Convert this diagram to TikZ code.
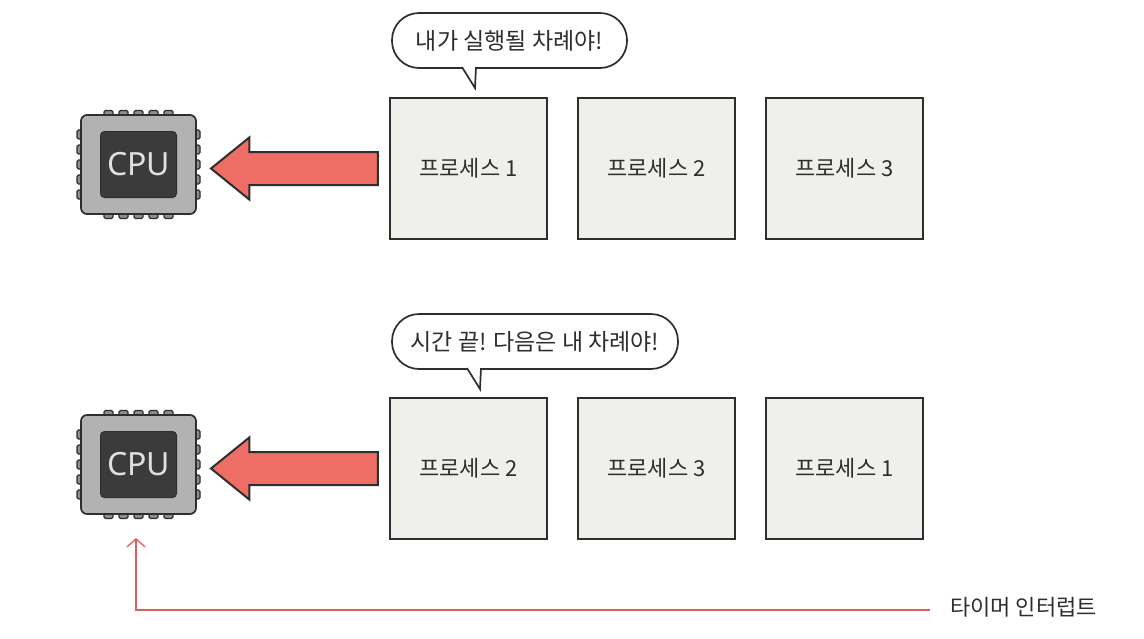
\documentclass[tikz,border=0pt]{standalone}
\usepackage{fontspec}
\newfontfamily\krfont{Noto Sans CJK KR}
\setsansfont{Noto Sans}
\usepackage{xcolor}
\definecolor{proc_gray}{HTML}{EFEFEC}
\definecolor{arrow_red}{HTML}{EE6E66}
\definecolor{line_red}{HTML}{DD5F5F}
\definecolor{ink}{HTML}{2E2E2E}
\definecolor{chip_body}{HTML}{B2B2B2}
\definecolor{chip_core}{HTML}{3B3B3B}
\usetikzlibrary{shapes.arrows,positioning,calc,arrows.meta}
\tikzset{PROCESS/.style={rectangle,minimum width=157pt,minimum height=141pt,draw=ink,line width=2pt,fill=proc_gray,text=ink,outer sep=0pt,font=\krfont\fontsize{22}{26}\selectfont}}
\tikzset{BUBBLE/.style={rectangle,rounded corners=27pt,minimum height=55pt,draw=ink,line width=1.7pt,fill=white,text=ink,outer sep=0pt,font=\krfont\fontsize{23}{27}\selectfont}}
\tikzset{TAIL/.style={draw=ink,line width=1.7pt,fill=white,line join=miter}}
\tikzset{BIGARROW/.style={single arrow,shape border rotate=180,minimum height=167pt,minimum width=60pt,single arrow head extend=14.5pt,single arrow tip angle=78,inner xsep=0pt,inner ysep=15.5pt,outer sep=0pt,draw=ink,line width=2pt,fill=arrow_red}}
\tikzset{CHIP/.style={rectangle,rounded corners=6pt,minimum width=115pt,minimum height=99pt,draw=ink,line width=1.7pt,fill=chip_body,outer sep=0pt}}
\tikzset{CORE/.style={rectangle,rounded corners=4pt,minimum width=76pt,minimum height=66pt,draw=ink,line width=1pt,fill=chip_core,text=white!88!black,inner sep=0pt,font=\sffamily\fontsize{32}{36}\selectfont}}
\tikzset{PIN/.style={draw=ink,line width=1.1pt,fill=chip_body!80!black,rounded corners=1.5pt}}
\tikzset{TIMER/.style={line_red,line width=1.3pt,-{Straight Barb[length=8pt,width=18pt]}}}

\begin{document}
\begin{tikzpicture}[x=1pt,y=1pt]
\useasboundingbox (0,0) rectangle (1144,-638);

\node[PROCESS] (n_proc_a) at (468.5,-168.5) {프로세스 1};
\node[PROCESS, right=31pt of n_proc_a] (n_proc_b) {프로세스 2};
\node[PROCESS, right=31pt of n_proc_b] (n_proc_c) {프로세스 3};

\node[PROCESS] (n_proc_d) at (468.5,-468.5) {프로세스 2};
\node[PROCESS, right=31pt of n_proc_d] (n_proc_e) {프로세스 3};
\node[PROCESS, right=31pt of n_proc_e] (n_proc_f) {프로세스 1};

\node[BIGARROW, left=12pt of n_proc_a] (n_arrow_a) {};
\node[BIGARROW, left=12pt of n_proc_d] (n_arrow_b) {};

% chips
\foreach \c/\y in {n_cpu_a/-164.5,n_cpu_b/-464.5}{
    \foreach \d in {-30,-15,0,15,30}{
        \draw[PIN] (138.5+\d-4.5,\y+47) rectangle (138.5+\d+4.5,\y+54);
        \draw[PIN] (138.5+\d-4.5,\y-47) rectangle (138.5+\d+4.5,\y-54);
        \draw[PIN] (85,\y+\d-4.5) rectangle (77,\y+\d+4.5);
        \draw[PIN] (192,\y+\d-4.5) rectangle (200,\y+\d+4.5);
    }
}
\node[CHIP] (n_cpu_a) at (138.5,-164.5) {};
\node[CHIP] (n_cpu_b) at (138.5,-464.5) {};
\node[CORE] (n_core_a) at (n_cpu_a) {CPU};
\node[CORE] (n_core_b) at (n_cpu_b) {CPU};

% speech bubbles
\node[BUBBLE, minimum width=235pt] (n_say_a) at (509.5,-40.5) {내가 실행될 차례야!};
\coordinate (c_tip_a) at ($(n_say_a.south west)+(83,-20)$);
\draw[TAIL] ($(n_say_a.south west)+(70,0.9)$) -- (c_tip_a) -- ($(n_say_a.south west)+(84,0.9)$);
\draw[white,line width=2.4pt] ($(n_say_a.south west)+(71.5,0)$) -- ($(n_say_a.south west)+(82.6,0)$);

\node[BUBBLE, minimum width=286pt] (n_say_b) at (535,-341.5) {시간 끝! 다음은 내 차례야!};
\coordinate (c_tip_b) at ($(n_say_b.south west)+(88,-20)$);
\draw[TAIL] ($(n_say_b.south west)+(75,0.9)$) -- (c_tip_b) -- ($(n_say_b.south west)+(89,0.9)$);
\draw[white,line width=2.4pt] ($(n_say_b.south west)+(76.5,0)$) -- ($(n_say_b.south west)+(87.6,0)$);

% timer interrupt
\node[text=ink,inner sep=0pt,font=\krfont\fontsize{22}{26}\selectfont,anchor=west] (n_timer) at (950,-607) {타이머 인터럽트};
\coordinate (c_timer_corner) at (136,-610);
\coordinate (c_timer_tip) at ($(n_cpu_b.south)+(-2.5,-24)$);
\draw[TIMER] ($(n_timer.west)+(-20,-3)$) -- (c_timer_corner) -- (c_timer_tip);

\end{tikzpicture}
\end{document}
